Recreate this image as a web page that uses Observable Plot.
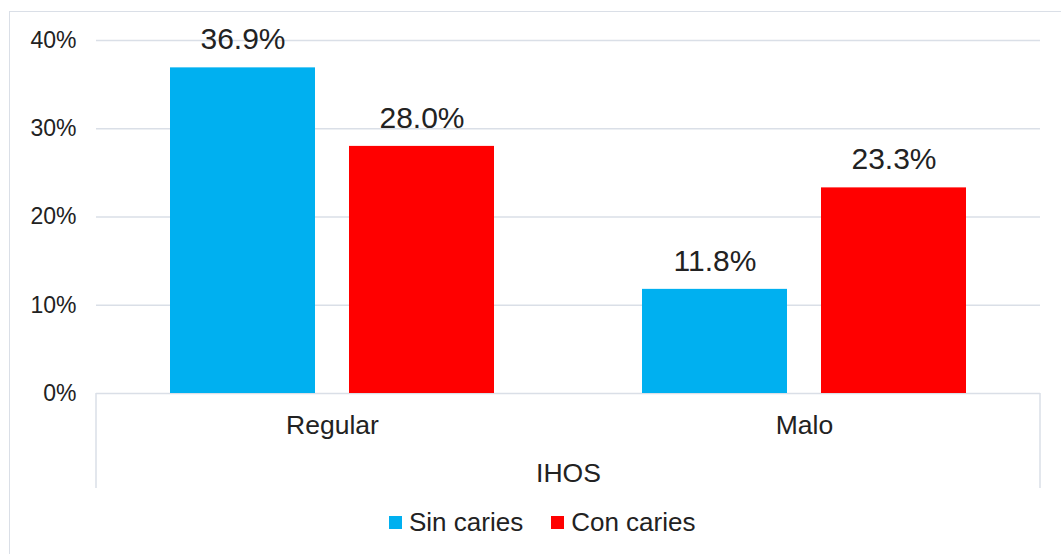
<!DOCTYPE html>
<html>
<head>
<meta charset="utf-8">
<script src="https://cdn.jsdelivr.net/npm/d3@7"></script>
<script src="https://cdn.jsdelivr.net/npm/@observablehq/plot@0.6"></script>
<style>
  html, body { margin: 0; padding: 0; background: #fff; }
  #wrap { position: relative; width: 1061px; height: 554px; overflow: hidden; background: #fff;
          font-family: "Liberation Sans", Arial, sans-serif; color: #222; }
  #frame { position: absolute; left: 9px; top: 11px; width: 1200px; height: 700px;
           border: 1.5px solid #dadfe7; box-sizing: border-box; }
  #chart { position: absolute; left: 0; top: 0; }
  #legend { position: absolute; left: 389px; top: 506px; }
  .lg-swatch { margin-right: 28px !important; }
  .lg-swatch > svg { margin-right: 7px !important; }
</style>
</head>
<body>
<div id="wrap">
  <div id="frame"></div>
  <div id="chart"></div>
  <div id="legend"></div>
</div>
<script>
// IHOS groups and caries status series (percent of patients)
const categories = ["Regular", "Malo"];
const series = ["Sin caries", "Con caries"];
const sinCaries = [36.9, 11.8];
const conCaries = [28.0, 23.3];
const yTicks = [0, 10, 20, 30, 40];
const seriesColors = ["#00B0F0", "#FF0000"];
const axisTitle = "IHOS";

const data = categories.flatMap((cat, i) => [
  {cat, serie: series[0], value: sinCaries[i]},
  {cat, serie: series[1], value: conCaries[i]}
]);

const gridColor = "#dadfe7";
const width = 1061, height = 500;
const marginLeft = 96, marginRight = 21, marginTop = 40, marginBottom = 107;

const plot = Plot.plot({
  width, height, marginLeft, marginRight, marginTop, marginBottom,
  style: {fontFamily: "'Liberation Sans', Arial, sans-serif", color: "#222", background: "transparent", overflow: "visible"},
  fx: {domain: categories, padding: 0},
  x: {domain: series, paddingInner: 0.189, paddingOuter: 0.406, axis: null},
  y: {domain: [0, 40], axis: null},
  color: {domain: series, range: seriesColors},
  marks: [
    Plot.gridY(yTicks, {stroke: gridColor, strokeOpacity: 1, strokeWidth: 1.5}),
    Plot.axisY(yTicks, {tickSize: 0, tickPadding: 20, fontSize: 23, tickFormat: d => d + "%", label: null}),
    Plot.barY(data, {fx: "cat", x: "serie", y: "value", fill: "serie"}),
    Plot.text(data, {fx: "cat", x: "serie", y: "value", text: d => d.value.toFixed(1) + "%",
                     dy: -28, fontSize: 30, fill: "#222"}),
    Plot.axisFx({anchor: "bottom", tickSize: 0, tickPadding: 22, fontSize: 26.5,
                 label: axisTitle, labelAnchor: "center", labelOffset: 88})
  ]
});
document.getElementById("chart").appendChild(plot);

// Box around the category axis, hanging below the zero line
const y = plot.scale("y");
const y0 = y.apply(0);
const svg = d3.select(plot);
const left = marginLeft, right = width - marginRight;
[left, right].forEach(xp => {
  svg.append("line")
    .attr("x1", xp).attr("x2", xp)
    .attr("y1", y0).attr("y2", y0 + 95)
    .attr("stroke", gridColor).attr("stroke-width", 1.5);
});

// Legend from the plot's color scale
const legend = plot.legend("color", {swatchSize: 13, className: "lg",
  style: {fontSize: "26px", fontFamily: "'Liberation Sans', Arial, sans-serif", color: "#222"}});
document.getElementById("legend").appendChild(legend);
</script>
</body>
</html>
